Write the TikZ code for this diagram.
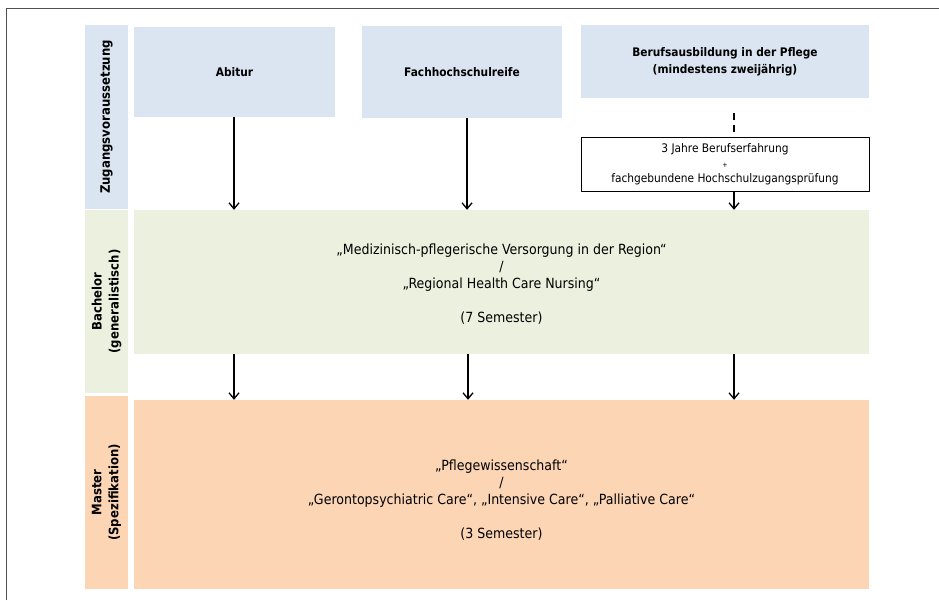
\documentclass[tikz,border=0pt]{standalone}
\usepackage{fontspec}
\setmainfont{DejaVu Sans Condensed}
\usetikzlibrary{arrows.meta}
\definecolor{zblue}{HTML}{DBE5F1}
\definecolor{bgreen}{HTML}{EBF1DE}
\definecolor{morange}{HTML}{FCD5B5}
\definecolor{framegray}{HTML}{505050}
\tikzset{
  every picture/.style={
    line join=round,
    >={Straight Barb[length=6pt,width=10pt,line width=1.3pt]}, % open V tips
  },
  cell/.style={inner sep=0pt, align=center, font=\fontsize{14}{17}\selectfont},
  headcell/.style={cell, fill=zblue, font=\bfseries\fontsize{11.8}{17}\selectfont},
  sidecell/.style={cell, rotate=90, minimum height=43pt, font=\bfseries\fontsize{13}{17}\selectfont},
  flow/.style={->, line width=1.3pt},
}

\begin{document}
\begin{tikzpicture}[x=1pt, y=-1pt]
\useasboundingbox (0,0) rectangle (939,600);
\draw[framegray, line width=1pt] (6,600) -- (6,8) -- (939,8);

% left column
\node[sidecell, fill=zblue, minimum width=184pt] (zug) at (106.5,117) {Zugangsvoraussetzung};
\node[sidecell, fill=bgreen, minimum width=183pt] (bachside) at (106.5,301.5) {Bachelor\\(generalistisch)};
\node[sidecell, fill=morange, minimum width=193pt] (mastside) at (106.5,492.5) {Master\\(Spezifikation)};

% entry requirements
\node[headcell, minimum width=201pt, minimum height=90pt] (abi) at (234.5,72) {Abitur};
\node[headcell, minimum width=200pt, minimum height=92pt] (fhr) at (462,72) {Fachhochschulreife};
\node[headcell, minimum width=288pt, minimum height=73pt] (beruf) at (725,61.5) {Berufsausbildung in der Pflege\\(mindestens zweijährig)};
\node[cell, draw, line width=0.8pt, minimum width=288pt, minimum height=54pt,
  font=\fontsize{11.8}{15}\selectfont] (pruef) at (725,164)
  {3 Jahre Berufserfahrung\\{\fontsize{7}{7}\selectfont +}\\fachgebundene Hochschulzugangsprüfung};

% programmes
\node[cell, fill=bgreen, minimum width=735pt, minimum height=144pt] (bach) at (501.5,282) {};
\node[cell] (bachtext) at ([yshift=-2pt]bach.center)
  {„Medizinisch-pflegerische Versorgung in der Region“\\/\\„Regional Health Care Nursing“\\[17pt](7 Semester)};
\node[cell, fill=morange, minimum width=735pt, minimum height=189pt] (mast) at (501.5,494.5) {};
\node[cell] (masttext) at ([yshift=-5.5pt]mast.center)
  {„Pflegewissenschaft“\\/\\„Gerontopsychiatric Care“, „Intensive Care“, „Palliative Care“\\[17pt](3 Semester)};

% connectors
\draw[flow] ([xshift=-0.5pt]abi.south) -- ([xshift=-0.5pt]abi.south |- bach.north);
\draw[flow] ([xshift=5pt]fhr.south) -- ([xshift=5pt]fhr.south |- bach.north);
\draw[line width=1.3pt, dashed, dash pattern=on 7pt off 5pt] ([xshift=9pt,yshift=-15pt]beruf.south) -- ([xshift=9pt]pruef.north);
\draw[flow] ([xshift=9pt]pruef.south) -- ([xshift=9pt]pruef.south |- bach.north);
\draw[flow] ([xshift=-267.5pt]bach.south) -- ([xshift=-267.5pt]bach.south |- mast.north);
\draw[flow] ([xshift=-33.5pt]bach.south) -- ([xshift=-33.5pt]bach.south |- mast.north);
\draw[flow] ([xshift=232.5pt]bach.south) -- ([xshift=232.5pt]bach.south |- mast.north);
\end{tikzpicture}
\end{document}
